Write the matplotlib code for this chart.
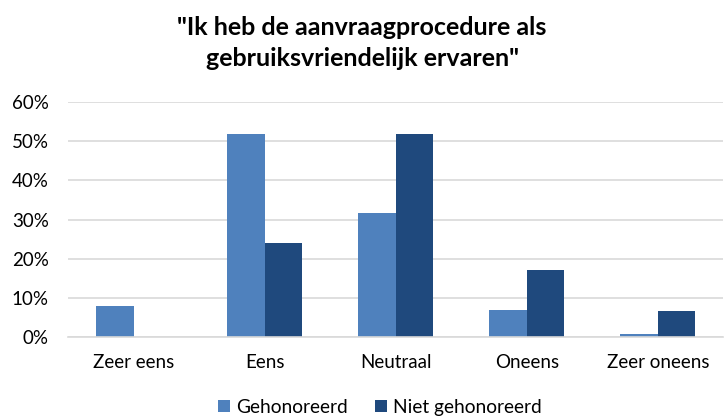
import matplotlib
matplotlib.use("Agg")
import matplotlib.pyplot as plt
import numpy as np
from matplotlib.ticker import PercentFormatter

categories = ["Zeer eens", "Eens", "Neutraal", "Oneens", "Zeer oneens"]
gehonoreerd = [8.1, 51.8, 31.6, 7.0, 0.9]
niet_gehonoreerd = [0.0, 24.0, 51.7, 17.1, 6.8]
series_names = ["Gehonoreerd", "Niet gehonoreerd"]
title = "\"Ik heb de aanvraagprocedure als\ngebruiksvriendelijk ervaren\""

plt.rcParams['font.family'] = ['Lato', 'DejaVu Sans']

fig = plt.figure(figsize=(7.24, 4.18), dpi=100)
ax = fig.add_axes([0.094, 0.1926, 0.905, 0.5641])

x = np.arange(len(categories))
w = 1 / 3.5
ax.bar(x - w / 2, gehonoreerd, w, color="#4F81BD", label=series_names[0])
ax.bar(x + w / 2, niet_gehonoreerd, w, color="#1F497D", label=series_names[1])

ax.set_xlim(-0.5, len(categories) - 0.5)
ax.set_ylim(0, 60)
ax.set_yticks(np.arange(0, 61, 10))
ax.yaxis.set_major_formatter(PercentFormatter(decimals=0))
ax.set_xticks(x)
ax.set_xticklabels(categories)
ax.tick_params(axis="both", length=0, labelsize=13.5, colors="#000000")
ax.tick_params(axis="x", pad=12)
ax.tick_params(axis="y", pad=14)
ax.grid(axis="y", color="#D9D9D9", linewidth=1.2)
ax.set_axisbelow(True)
for s in ["top", "left", "right"]:
    ax.spines[s].set_visible(False)
ax.spines["bottom"].set_color("#D9D9D9")
ax.spines["bottom"].set_linewidth(1.2)

fig.text(0.5, 0.897, title, ha="center", va="center", fontsize=18,
         fontweight="bold", linespacing=1.45)

fig.legend(loc="center", bbox_to_anchor=(0.525, 0.025), ncol=2, frameon=False,
           fontsize=13.8, handlelength=0.6, handleheight=0.6, handletextpad=0.35,
           columnspacing=1.4)

fig.savefig("out.png", dpi=100)
